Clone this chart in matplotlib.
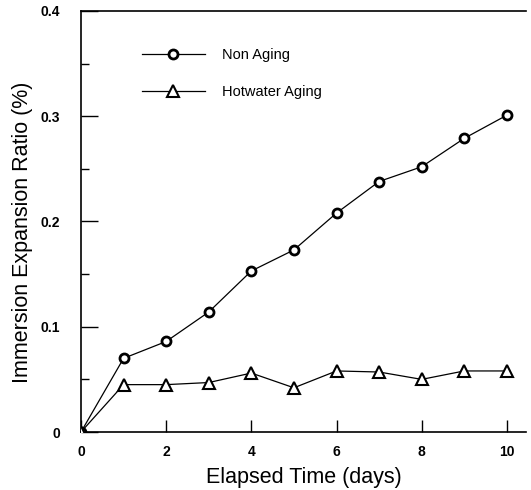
import matplotlib
matplotlib.use("Agg")
import matplotlib.pyplot as plt
from matplotlib.ticker import MultipleLocator

# Immersion expansion ratio vs elapsed time
days = [0, 1, 2, 3, 4, 5, 6, 7, 8, 9, 10]
non_aging = [0.0, 0.070, 0.086, 0.114, 0.153, 0.173, 0.208, 0.238, 0.252, 0.279, 0.301]
hotwater_aging = [0.0, 0.045, 0.045, 0.047, 0.056, 0.042, 0.058, 0.057, 0.050, 0.058, 0.058]

x_ticks = [0, 2, 4, 6, 8, 10]
y_ticks = [0, 0.1, 0.2, 0.3, 0.4]
y_tick_labels = ["0", "0.1", "0.2", "0.3", "0.4"]

plt.rcParams['font.family'] = ['Liberation Sans', 'DejaVu Sans']

fig = plt.figure(figsize=(5.31, 4.90), dpi=100)
ax = fig.add_axes([81 / 531, 58 / 490, 445 / 531, 421 / 490])

ax.plot(days, non_aging, color="black", lw=0.9, marker="o", markersize=6.5,
        markerfacecolor="white", markeredgecolor="black", markeredgewidth=2,
        label="Non Aging", zorder=3)
ax.plot(days, hotwater_aging, color="black", lw=0.9, marker="^", markersize=8,
        markerfacecolor="white", markeredgecolor="black", markeredgewidth=1.5,
        label="Hotwater Aging", zorder=3)

ax.set_xlim(0, 10.45)
ax.set_ylim(0, 0.4)

ax.set_xticks(x_ticks)
ax.set_yticks(y_ticks)
ax.set_yticklabels(y_tick_labels)
ax.yaxis.set_minor_locator(MultipleLocator(0.05))

ax.tick_params(axis="x", direction="in", length=8.5, width=1, pad=9.5,
               labelsize=10)
ax.tick_params(axis="y", which="major", direction="in", length=12, width=1,
               pad=15, labelsize=10)
ax.tick_params(axis="y", which="minor", direction="in", length=6, width=1)
for lbl in ax.get_xticklabels() + ax.get_yticklabels():
    lbl.set_fontweight("bold")

ax.spines["right"].set_visible(False)
for side in ["left", "bottom", "top"]:
    ax.spines[side].set_linewidth(1.2)

ax.set_xlabel("Elapsed Time (days)", fontsize=15.5)
ax.set_ylabel("Immersion Expansion Ratio (%)", fontsize=15.5)
ax.xaxis.set_label_coords(0.5, -0.082)
ax.yaxis.set_label_coords(-0.108, 0.475)

ax.legend(loc="upper left", bbox_to_anchor=(0.137, 0.912), frameon=False,
          fontsize=10.5, handlelength=4.3, handletextpad=1.2,
          labelspacing=1.6, borderaxespad=0, borderpad=0)

fig.savefig("out.png", dpi=100)
